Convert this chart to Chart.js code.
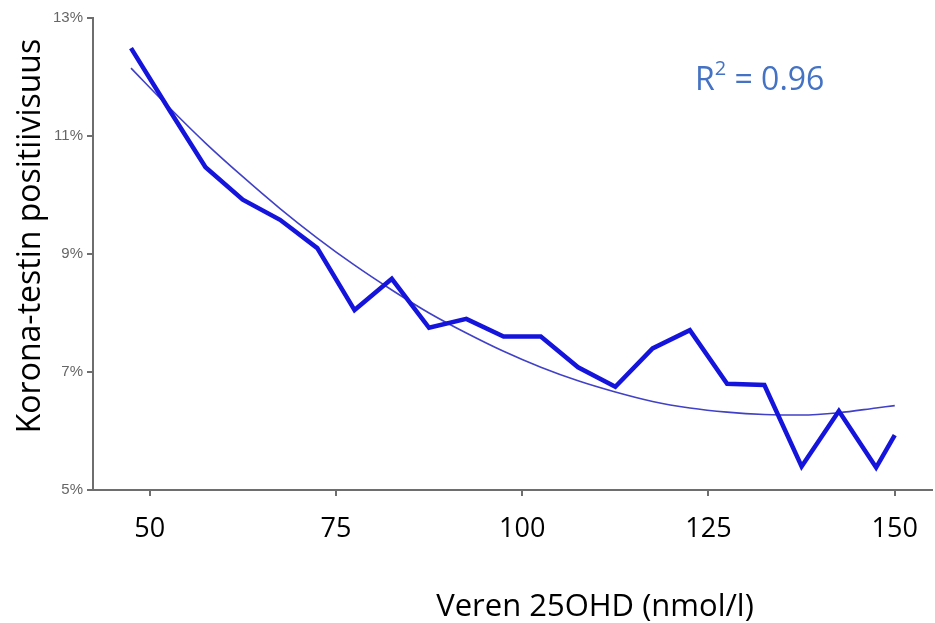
<!DOCTYPE html>
<html>
<head>
<meta charset="utf-8">
<script src="https://cdn.jsdelivr.net/npm/chart.js@4"></script>
<style>
  html, body { margin: 0; padding: 0; background: #fff; }
  #wrap { width: 935px; height: 623px; }
</style>
</head>
<body>
<div id="wrap"><canvas id="myChart" width="935" height="623"></canvas></div>
<script>
// values
const vitD = [47.5, 52.5, 57.5, 62.5, 67.5, 72.5, 77.5, 82.5, 87.5, 92.5, 97.5,
  102.5, 107.5, 112.5, 117.5, 122.5, 127.5, 132.5, 137.5, 142.5, 147.5, 150]
const positivity = [12.49, 11.47, 10.47, 9.92, 9.58, 9.10, 8.05, 8.58, 7.75, 7.90, 7.60,
  7.60, 7.08, 6.75, 7.40, 7.71, 6.80, 6.78, 5.40, 6.34, 5.38, 5.93]
const trend = [12.15, 11.50, 10.88, 10.31, 9.77, 9.27, 8.81, 8.39, 8.00, 7.66, 7.35,
  7.08, 6.85, 6.66, 6.50, 6.39, 6.32, 6.28, 6.27, 6.31, 6.39, 6.43]
const xTicks = [50, 75, 100, 125, 150]
const yTicks = [5, 7, 9, 11, 13]
const xTitle = 'Veren 25OHD (nmol/l)'
const yTitle = 'Korona-testin positiivisuus'
const r2Label = '0.96'

const ctx = document.querySelector('#myChart')

const toPoints = (xs, ys) => xs.map((x, i) => ({ x: x, y: ys[i] }))

const textPlugin = {
  id: 'texts',
  afterDraw(chart) {
    const c = chart.ctx
    c.save()
    c.fillStyle = '#000'
    c.textAlign = 'center'
    c.textBaseline = 'alphabetic'
    c.font = '31px "Open Sans", sans-serif'
    c.fillText(xTitle, 595, 616)

    c.translate(40, 236)
    c.rotate(-Math.PI / 2)
    c.font = '32px "Open Sans", sans-serif'
    c.fillText(yTitle, 0, 0)
    c.restore()

    // R squared
    c.save()
    c.fillStyle = '#4472C4'
    c.textBaseline = 'alphabetic'
    c.textAlign = 'left'
    c.font = '32px "Open Sans", sans-serif'
    let x = 695
    c.fillText('R', x, 90)
    x += c.measureText('R').width
    c.font = '20px "Open Sans", sans-serif'
    c.fillText('2', x, 75)
    x += c.measureText('2').width
    c.font = '32px "Open Sans", sans-serif'
    c.fillText(' = ' + r2Label, x, 90)
    c.restore()
  }
}

let chart = new Chart(ctx, {
  type: 'scatter',
  data: {
    datasets: [
      {
        data: toPoints(vitD, positivity),
        showLine: true,
        borderColor: '#1414dc',
        borderWidth: 4.5,
        pointRadius: 0,
        tension: 0,
        borderJoinStyle: 'miter'
      },
      {
        data: toPoints(vitD, trend),
        showLine: true,
        borderColor: '#4040c8',
        borderWidth: 1.6,
        pointRadius: 0,
        cubicInterpolationMode: 'monotone'
      }
    ]
  },
  options: {
    responsive: false,
    animation: false,
    layout: { padding: { left: 0, right: 2, top: 18, bottom: 0 } },
    plugins: {
      legend: { display: false },
      tooltip: { enabled: false }
    },
    scales: {
      x: {
        type: 'linear',
        min: 42.4,
        max: 155,
        afterBuildTicks: (s) => { s.ticks = xTicks.map(v => ({ value: v })) },
        afterFit: (s) => { s.height = 133 },
        border: { display: true, color: '#6e6e6e', width: 2 },
        grid: { drawOnChartArea: false, drawTicks: true, tickLength: 6, color: '#6e6e6e', lineWidth: 2 },
        ticks: {
          color: '#000',
          padding: 17,
          font: { family: '"Open Sans", sans-serif', size: 27 }
        }
      },
      y: {
        min: 5,
        max: 13,
        afterBuildTicks: (s) => { s.ticks = yTicks.map(v => ({ value: v })) },
        afterFit: (s) => { s.width = 93 },
        border: { display: true, color: '#6e6e6e', width: 2 },
        grid: { drawOnChartArea: false, drawTicks: true, tickLength: 6, color: '#6e6e6e', lineWidth: 2 },
        ticks: {
          color: '#666',
          padding: 4,
          font: { family: '"Liberation Sans", Arial, sans-serif', size: 15 },
          callback: (v) => v + '%'
        }
      }
    }
  },
  plugins: [textPlugin]
})
</script>
</body>
</html>
